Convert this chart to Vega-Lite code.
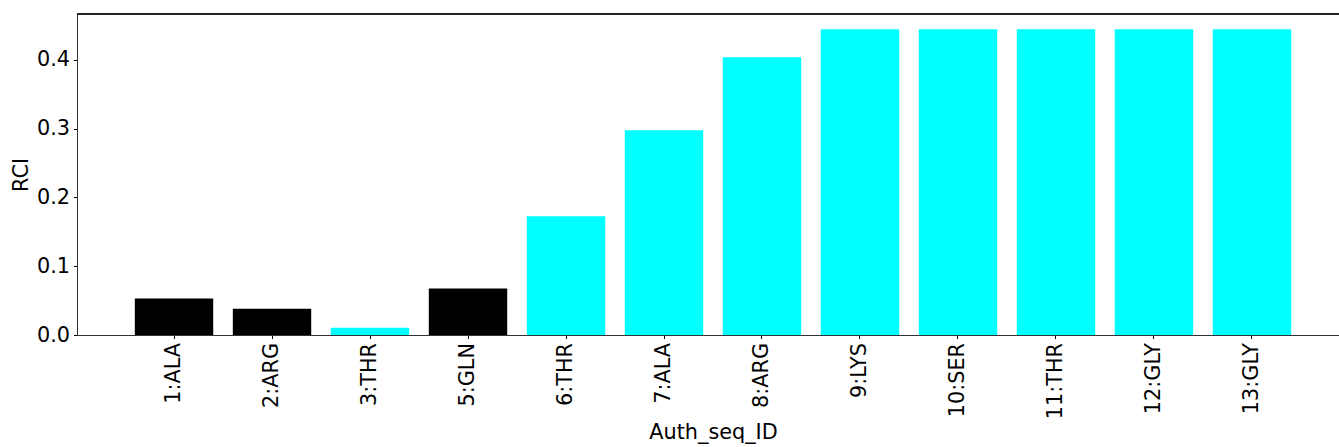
{
  "$schema": "https://vega.github.io/schema/vega-lite/v6.json",
  "autosize": "none",
  "padding": {"left": 77, "top": 14, "right": 0, "bottom": 112},
  "width": 1272,
  "height": 321,
  "background": "white",
  "config": {
    "view": {"stroke": null},
    "font": "DejaVu Sans"
  },
  "data": {
    "values": [
      {"residue": "1:ALA", "RCI": 0.0529, "class": "A"},
      {"residue": "2:ARG", "RCI": 0.0383, "class": "A"},
      {"residue": "3:THR", "RCI": 0.0106, "class": "B"},
      {"residue": "5:GLN", "RCI": 0.0675, "class": "A"},
      {"residue": "6:THR", "RCI": 0.1725, "class": "B"},
      {"residue": "7:ALA", "RCI": 0.2976, "class": "B"},
      {"residue": "8:ARG", "RCI": 0.404, "class": "B"},
      {"residue": "9:LYS", "RCI": 0.4447, "class": "B"},
      {"residue": "10:SER", "RCI": 0.4447, "class": "B"},
      {"residue": "11:THR", "RCI": 0.4447, "class": "B"},
      {"residue": "12:GLY", "RCI": 0.4447, "class": "B"},
      {"residue": "13:GLY", "RCI": 0.4447, "class": "B"}
    ]
  },
  "layer": [
    {
      "mark": {"type": "bar"},
      "encoding": {
        "x": {
          "field": "residue",
          "type": "nominal",
          "sort": null,
          "scale": {"paddingInner": 0.2, "paddingOuter": 0.59},
          "axis": {
            "title": "Auth_seq_ID",
            "titleFontSize": 20.8,
            "titleFontWeight": "normal",
            "titleColor": "black",
            "titlePadding": 4,
            "labelFontSize": 20.8,
            "labelColor": "black",
            "labelAngle": -90,
            "labelAlign": "right",
            "labelBaseline": "middle",
            "labelPadding": 4,
            "tickSize": 3.5,
            "tickColor": "black",
            "domainColor": "#333333",
            "domainWidth": 1
          }
        },
        "y": {
          "field": "RCI",
          "type": "quantitative",
          "scale": {"domain": [0, 0.4667], "nice": false, "zero": true},
          "axis": {
            "title": "RCI",
            "titleFontSize": 20.8,
            "titleFontWeight": "normal",
            "titleColor": "black",
            "titlePadding": 5,
            "values": [0, 0.1, 0.2, 0.3, 0.4],
            "format": ".1f",
            "labelFontSize": 20.8,
            "labelColor": "black",
            "labelPadding": 4,
            "tickSize": 3.5,
            "tickColor": "black",
            "domainColor": "#333333",
            "grid": false
          }
        },
        "color": {
          "field": "class",
          "type": "nominal",
          "scale": {"domain": ["A", "B"], "range": ["#000000", "#00ffff"]},
          "legend": null
        }
      }
    },
    {
      "mark": {"type": "rule", "color": "#222222", "strokeWidth": 1},
      "encoding": {"y": {"datum": 0.4667}}
    }
  ]
}
